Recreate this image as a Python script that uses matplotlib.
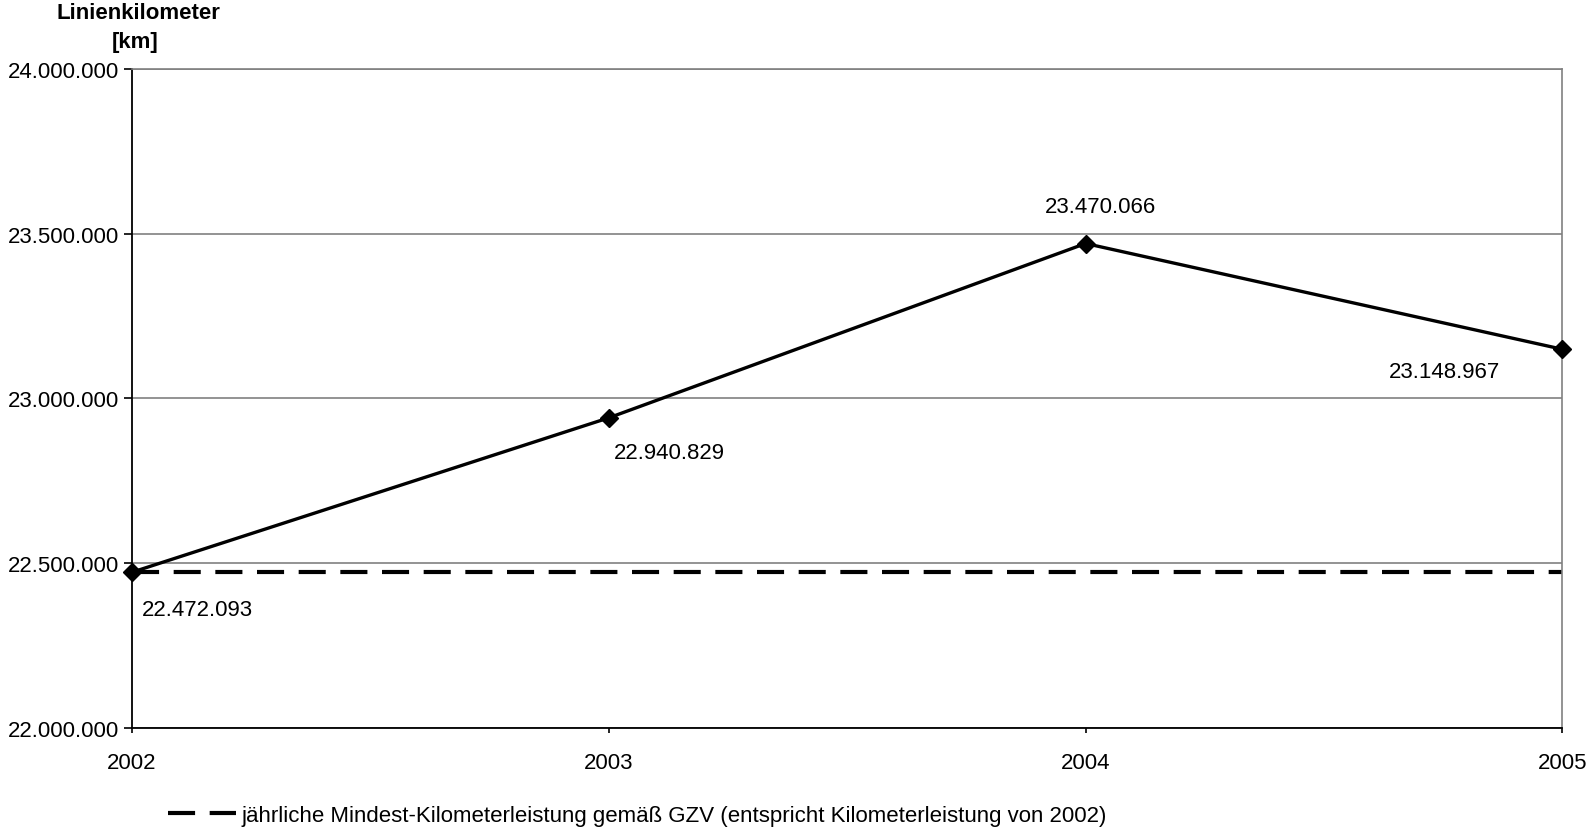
import matplotlib.pyplot as plt
from matplotlib.ticker import FuncFormatter

plt.rcParams['font.family'] = ['Liberation Sans', 'DejaVu Sans']

# Linienkilometer per year
years = [2002, 2003, 2004, 2005]
km = [22472093, 22940829, 23470066, 23148967]
# minimum required per year (= 2002 value)
mindest = [22472093, 22472093, 22472093, 22472093]

legend_text = "jährliche Mindest-Kilometerleistung gemäß GZV (entspricht Kilometerleistung von 2002)"

# label offsets in pixels (x, y) and alignment per point
label_pos = [(10, -37, 'left'), (5, -35, 'left'), (15, 37, 'center'), (-62, -22, 'right')]


def de_fmt(v, pos=None):
    return f"{int(round(v)):,}".replace(",", ".")


fig = plt.figure(figsize=(15.91, 8.29), dpi=100)
ax = fig.add_axes([0.083, 0.121, 0.899, 0.7946])

ax.plot(years, mindest, color='black', lw=3, dashes=(6.5, 3.5), zorder=2,
        label=legend_text)
ax.plot(years, km, color='black', lw=2.4, marker='D', markersize=9.5, zorder=3,
        clip_on=False)

for x, y, (dx, dy, ha) in zip(years, km, label_pos):
    ax.annotate(de_fmt(y), (x, y), xytext=(dx, dy), textcoords='offset pixels',
                ha=ha, va='center', fontsize=16)

ax.set_xlim(2002, 2005)
ax.set_ylim(22000000, 24000000)
ax.set_xticks(years)
ax.set_yticks([22000000, 22500000, 23000000, 23500000, 24000000])
ax.yaxis.set_major_formatter(FuncFormatter(de_fmt))
ax.tick_params(labelsize=16, color='black', width=1.2)
ax.tick_params(axis='y', length=5.5, pad=4)
ax.tick_params(axis='x', length=3.5, pad=14)

ax.grid(axis='y', color='#808080', lw=1.2)
ax.set_axisbelow(True)
ax.spines['left'].set_color('black')
ax.spines['bottom'].set_color('black')
ax.spines['left'].set_linewidth(1.3)
ax.spines['bottom'].set_linewidth(1.3)
ax.spines['right'].set_color('#808080')
ax.spines['top'].set_color('#808080')
ax.spines['right'].set_linewidth(1.2)
ax.spines['top'].set_linewidth(1.2)

fig.text(0.0871, 0.984, "Linienkilometer", ha='center', va='center',
         fontsize=16, fontweight='bold')
fig.text(0.0849, 0.949, "[km]", ha='center', va='center',
         fontsize=16, fontweight='bold')

fig.legend(loc='center left', bbox_to_anchor=(0.093, 0.0155), frameon=False,
           fontsize=16, handlelength=3.06, handletextpad=0.25)

fig.savefig('out.png', dpi=100)
